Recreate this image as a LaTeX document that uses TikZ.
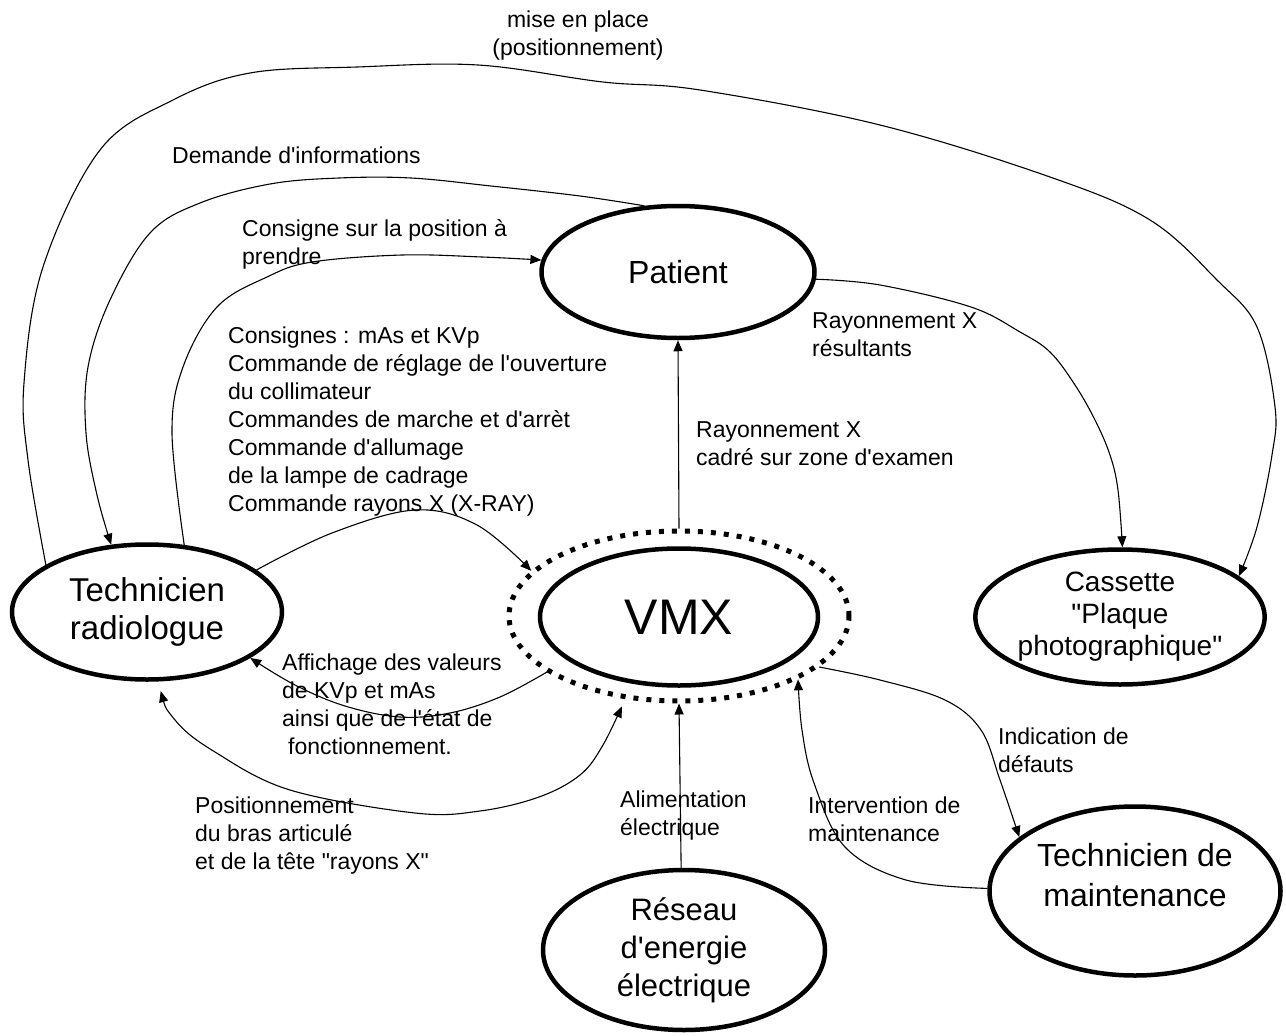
\documentclass[tikz,border=0pt]{standalone}
\usepackage{fontspec}
\setmainfont{Liberation Sans}
\usetikzlibrary{shapes.geometric,arrows.meta}
\newcommand{\ap}{\textquotesingle}
\newcommand{\dq}{\textquotedbl}
\begin{document}
\begin{tikzpicture}[x=1pt,y=-1pt,
  ell/.style={ellipse,draw,line width=4.5pt,inner sep=0pt,align=center},
  lbl/.style={font=\fontsize{23}{28}\selectfont,align=left,anchor=west,inner sep=0pt},
  conn/.style={line width=1.1pt},
  arr/.style={line width=1.1pt,-{Triangle[length=11pt,width=9pt]}},
  darr/.style={line width=1.1pt,{Triangle[length=11pt,width=9pt]}-{Triangle[length=11pt,width=9pt]}}]
\useasboundingbox (0,0) rectangle (1286,1036);

% nodes
\node[ell,minimum width=273,minimum height=132,font=\fontsize{32}{38}\selectfont] (pat) at (678,272) {Patient};
\node[ell,minimum width=278,minimum height=137,font=\fontsize{50}{60}\selectfont] (vmx) at (679,617) {VMX};
\node[ellipse,draw,line width=5pt,dash pattern=on 5pt off 8pt,minimum width=340,minimum height=170,inner sep=0pt] (vmxo) at (679,616) {};
\node[ell,minimum width=270,minimum height=135,font=\fontsize{33}{38}\selectfont] (tech) at (147,612) {Technicien\\radiologue};
\node[ell,minimum width=271,minimum height=135,font=\fontsize{28}{32}\selectfont] (cass) at (1120,617) {Cassette\\\dq Plaque\\photographique\dq};
\node[ell,minimum width=291,minimum height=169,font=\fontsize{32}{40}\selectfont] (maint) at (1135,891) {Technicien de\\maintenance\\[-8pt]};
\node[ell,minimum width=282,minimum height=160,font=\fontsize{31}{38}\selectfont] (res) at (684,950) {Réseau\\d\ap energie\\électrique};

% labels
\node[lbl,align=center,anchor=center] (l1) at (578,36) {mise en place\\(positionnement)};
\node[lbl] (l2) at (172,155) {Demande d\ap informations};
\node[lbl] (l3) at (242,244) {Consigne sur la position à\\prendre};
\node[lbl] (l4) at (228,422) {Consignes : mAs et KVp\\Commande de réglage de l\ap ouverture\\du collimateur\\Commandes de marche et d\ap arrèt\\Commande d\ap allumage\\de la lampe de cadrage\\Commande rayons X (X-RAY)};
\node[lbl] (l5) at (812,335) {Rayonnement X\\résultants};
\node[lbl] (l6) at (696,444) {Rayonnement X\\cadré sur zone d\ap examen};
\node[lbl] (l7) at (282,704) {Affichage des valeurs\\de KVp et mAs\\ainsi que de l\ap état de\\\hspace*{6pt}fonctionnement.};
\node[lbl] (l8) at (195,836) {Positionnement\\du bras articulé\\et de la tête \dq rayons X\dq};
\node[lbl] (l9) at (620,816) {Alimentation\\électrique};
\node[lbl] (l10) at (808,819) {Intervention de\\maintenance};
\node[lbl] (l11) at (998,750) {Indication de\\défauts};

% connectors
% mise en place: technicien -> cassette
\draw[arr] plot[smooth,tension=0.6] coordinates {(tech.155) (28,460) (24,383) (43,267) (100,150) (173,100) (250,73) (357,67) (478,65) (603,82) (700,90) (880,125) (1050,177) (1150,220) (1217,280) (1257,327) (1275,407) (1272,455) (1257,527) (cass.19)};
% Demande d'informations: patient -> technicien
\draw[arr] plot[smooth,tension=0.6] coordinates {(pat.117) (580,196) (491,186) (411,178) (339,178) (270,184) (200,203) (150,233) (110,300) (88,367) (86,433) (97,495) (tech.118)};
% Consigne sur la position: technicien -> patient
\draw[arr] plot[smooth,tension=0.6] coordinates {(tech.61) (172,433) (183,367) (217,307) (267,277) (312,262) (402,255) (482,257) (pat.175)};
% Consignes: technicien -> VMX
\draw[arr] plot[smooth,tension=0.6] coordinates {(tech.21) (332,533) (415,510) (477,525) (vmxo.163)};
% Affichage: VMX -> technicien
\draw[arr] plot[smooth,tension=0.6] coordinates {(vmxo.203) (500,697) (450,713) (400,717) (345,706) (295,685) (tech.-24)};
% Positionnement: technicien <-> VMX
\draw[darr,shorten <=10pt,shorten >=8pt] plot[smooth,tension=0.6] coordinates {(tech.-81) (175,720) (215,752) (290,790) (415,813) (480,811) (539,797) (580,775) (603,745) (vmxo.237)};
% VMX -> patient
\draw[arr] (vmxo.north) -- (pat.south);
% patient -> cassette
\draw[arr] plot[smooth,tension=0.6] coordinates {(pat.-3) (880,285) (971,307) (1020,332) (1050,352) (1075,385) (1095,420) (1110,455) (1118,490) (cass.88)};
% reseau -> VMX
\draw[arr] (res.92) -- (vmxo.south);
% maintenance -> VMX
\draw[arr] plot[smooth,tension=0.6] coordinates {(maint.179) (906,880) (845,847) (814,783) (802,730) (vmxo.-28)};
% VMX -> maintenance
\draw[arr] plot[smooth,tension=0.6] coordinates {(vmxo.-20) (880,680) (945,700) (981,730) (1000,780) (maint.155)};
\end{tikzpicture}
\end{document}
